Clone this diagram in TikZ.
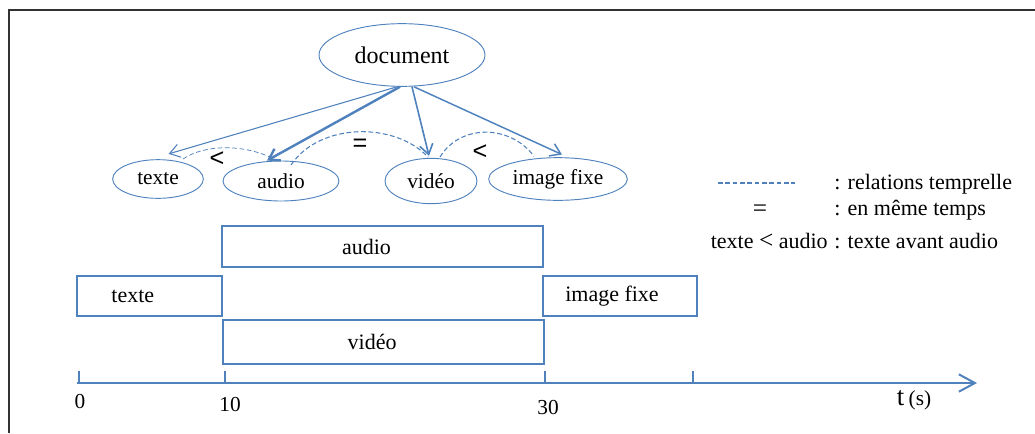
\documentclass[tikz,border=0pt]{standalone}
\usepackage{fontspec}
\setmainfont{Liberation Serif}
\newfontfamily\arialf{Liberation Sans}
\usetikzlibrary{arrows.meta,shapes.geometric}
\definecolor{obl}{RGB}{79,129,189}
\definecolor{frm}{RGB}{50,50,50}
\begin{document}
\begin{tikzpicture}[x=0.75pt,y=-0.75pt,
  ell/.style={ellipse,draw=obl,line width=0.7pt,inner sep=0pt,font=\fontsize{16}{18}\selectfont},
  tbox/.style={rectangle,draw=obl,line width=0.9pt,inner sep=0pt,font=\fontsize{16.5}{18}\selectfont},
  arr/.style={draw=obl,-{Straight Barb[length=7.5pt,width=10pt]}},
  rel/.style={draw=obl,dash pattern=on 3.5pt off 2pt,line width=0.8pt},
  sym/.style={inner sep=0pt,font=\arialf\fontsize{19}{20}\selectfont},
  lgd/.style={inner sep=0pt,font=\fontsize{16.5}{18}\selectfont},
  axl/.style={inner sep=0pt,font=\fontsize{16}{18}\selectfont},
  axis/.style={draw=obl,line width=1.5pt},
  tick/.style={draw=obl,line width=1.1pt}
]
\useasboundingbox (0,0) rectangle (1035,433);
% frame
\coordinate (f1) at (9,433); \coordinate (f2) at (9,10); \coordinate (f3) at (1035,10);
\draw[line width=1.5pt,frm] (f1) -- (f2) -- (f3);

% tree
\node[ell,minimum width=124.5pt,minimum height=47pt,font=\fontsize{18}{20}\selectfont] (doc) at (402,55) {document};
\node[ell,minimum width=68pt,minimum height=29pt] (etexte) at (158,179) {texte};
\node[ell,minimum width=87pt,minimum height=30pt] (eaudio) at (281,181) {audio};
\node[ell,minimum width=69pt,minimum height=34pt] (evideo) at (431,181) {vidéo};
\node[ell,minimum width=104pt,minimum height=32pt] (eimage) at (558,179) {image fixe};

\draw[arr,line width=0.8pt] ([xshift=-3.75pt]doc.south) -- ([xshift=8pt,yshift=4pt]etexte.north);
\draw[arr,line width=1.8pt] ([xshift=-1.5pt]doc.south) -- ([xshift=-10.5pt]eaudio.north);
\draw[arr,line width=1.2pt] ([xshift=7.5pt]doc.south) -- ([xshift=-1.5pt,yshift=1.5pt]evideo.north);
\draw[arr,line width=1.1pt] ([xshift=9pt]doc.south) -- ([xshift=3pt,yshift=2pt]eimage.north);

\draw[rel,line width=0.55pt] ([xshift=18.75pt,yshift=15pt]etexte.center) .. controls (205,144) and (245,144) .. ([xshift=-5.25pt,yshift=16.5pt]eaudio.center);
\draw[rel] ([xshift=7.5pt,yshift=12pt]eaudio.center) .. controls (320,122) and (395,122) .. ([xshift=-2.25pt,yshift=18pt]evideo.center);
\draw[rel] ([xshift=6.75pt,yshift=18pt]evideo.center) .. controls (460,124) and (510,124) .. ([xshift=-18pt,yshift=17pt]eimage.center);

\node[sym] (lt1) at (217,159) {<};
\node[sym] (eq1) at (360,145) {=};
\node[sym] (lt2) at (480,152) {<};

% legend
\coordinate (l1a) at (718,183); \coordinate (l1b) at (795,183);
\draw[rel] (l1a) -- (l1b);
\node[lgd,anchor=base west] (lg1) at (834,189) {: relations temprelle};
\node[lgd,anchor=base,font=\fontsize{19}{20}\selectfont] (lgeq) at (760,216) {=};
\node[lgd,anchor=base west] (lg2) at (834,215) {: en même temps};
\node[lgd,anchor=base east] (lg3a) at (828,248) {texte {\fontsize{19}{20}\selectfont<} audio};
\node[lgd,anchor=base west] (lg3) at (834,248) {: texte avant audio};

% timeline boxes
\node[tbox,minimum width=240.75pt,minimum height=30.75pt] (baudio) at (382.5,246.5) {audio\hspace*{24pt}};
\node[tbox,minimum width=108.75pt,minimum height=30pt] (btexte) at (149.5,296) {texte\hspace*{25pt}};
\node[tbox,minimum width=115.5pt,minimum height=30pt] (bimage) at (620,296) {image fixe\hspace*{12pt}};
\node[tbox,minimum width=240.75pt,minimum height=33pt] (bvideo) at (383.5,342) {vidéo\hspace*{17pt}};

% axis
\coordinate (ax0) at (77,383); \coordinate (axend) at (977,383);
\draw[axis,-{Straight Barb[length=12pt,width=13pt]}] (ax0) -- (axend);
\foreach \n/\x in {a/79,b/225,c/545,d/693}{
  \coordinate (t\n top) at (\x,371);
  \coordinate (t\n bot) at (\x,383);
  \draw[tick] (t\n top) -- (t\n bot);
}
\node[axl] (n0) at (80,402) {0};
\node[axl] (n10) at (230,405) {10};
\node[axl] (n30) at (548,408) {30};
\node[inner sep=0pt,anchor=base] (tlab) at (914,405) {\fontsize{20}{21}\selectfont t\,\fontsize{16}{17}\selectfont(s)};
\end{tikzpicture}
\end{document}
